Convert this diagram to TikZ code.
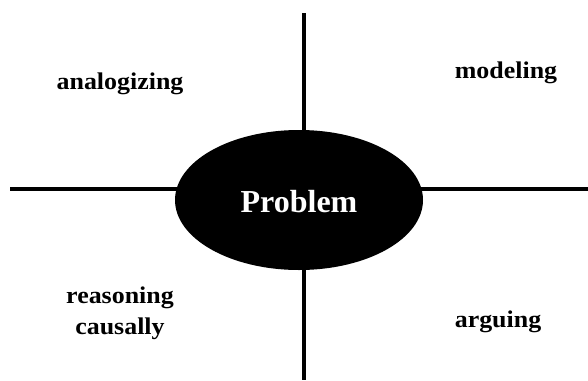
\documentclass[tikz,border=0pt]{standalone}
\usepackage{fontspec}
\setmainfont{Liberation Serif}
\newfontfamily\lblfont[FakeStretch=1.08]{Liberation Serif}
\usetikzlibrary{shapes.geometric}
\begin{document}
\begin{tikzpicture}[x=1pt,y=-1pt,
  axis/.style={line width=4pt, black},
  lbl/.style={anchor=base, inner sep=0pt, font=\lblfont\bfseries\fontsize{24}{31}\selectfont, align=center},
  core/.style={ellipse, fill=black, draw=none, minimum width=248pt, minimum height=140pt, inner sep=0pt,
    text=white, font=\bfseries\fontsize{32}{36}\selectfont}]
\useasboundingbox (0,0) rectangle (588,380);
\coordinate (vt) at (304,13);
\coordinate (vb) at (304,380);
\coordinate (hl) at (10,188.5);
\coordinate (hr) at (588,188.5);
\draw[axis] (vt) -- (vb);
\draw[axis] (hl) -- (hr);
\node[core] (prob) at (299,200) {};
\node[anchor=base, inner sep=0pt, text=white, font=\bfseries\fontsize{32}{36}\selectfont] (ptext) at (299,212) {Problem};
\node[lbl] (ana) at (120,89) {analogizing};
\node[lbl] (mod) at (506,78) {modeling};
\node[lbl] (rea) at (120,334) {reasoning\\causally};
\node[lbl] (arg) at (498,327) {arguing};
\end{tikzpicture}
\end{document}
